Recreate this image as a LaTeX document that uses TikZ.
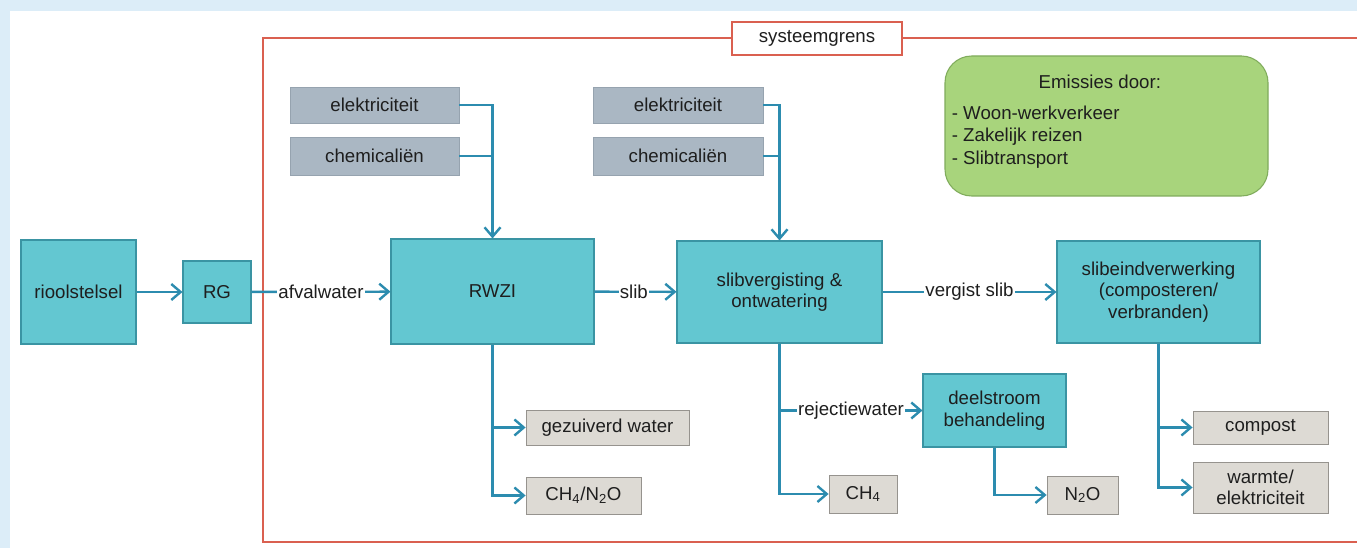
\documentclass[tikz,border=0pt]{standalone}
\usepackage{fontspec}
\setmainfont{Liberation Sans}
\usetikzlibrary{arrows.meta}
\definecolor{bgblue}{RGB}{220,237,248}
\definecolor{tealf}{RGB}{99,199,209}
\definecolor{tealb}{RGB}{58,148,163}
\definecolor{inpf}{RGB}{170,183,195}
\definecolor{inpb}{RGB}{150,163,175}
\definecolor{outf}{RGB}{221,218,212}
\definecolor{outb}{RGB}{150,147,142}
\definecolor{greenf}{RGB}{168,212,124}
\definecolor{greenb}{RGB}{128,172,92}
\definecolor{arrc}{RGB}{44,140,175}
\definecolor{redl}{RGB}{218,96,80}
\definecolor{txt}{RGB}{30,30,30}
\tikzset{
  proc/.style={fill=tealf, draw=tealb, line width=0.8pt, inner sep=2pt, align=center, text=txt},
  inp/.style={fill=inpf, draw=inpb, line width=0.5pt, inner sep=2pt, align=center, text=txt},
  outbox/.style={fill=outf, draw=outb, line width=0.6pt, inner sep=2pt, align=center, text=txt},
  flow/.style={draw=arrc, line width=1.8pt, -{Straight Barb[length=7pt,width=12pt,line width=1.8pt]}},
  feed/.style={draw=arrc, line width=1.8pt},
  lbl/.style={fill=white, inner sep=1pt, text=txt},
  sz/.style 2 args={minimum width=#1, minimum height=#2},
  redline/.style={draw=redl, line width=2.2pt}
}
\begin{document}
\begin{tikzpicture}[x=0.75pt,y=-0.75pt,font=\fontsize{14}{16.2}\selectfont]
\useasboundingbox (0,0) rectangle (1357,548);
\fill[bgblue] (0,0) rectangle (1357,548);
\fill[white] (10,11) rectangle (1357,548);

% system boundary
\draw[redline] (1357,38) -- (263,38) -- (263,542) -- (1357,542);
\node[fill=white, draw=redl, line width=1.8pt, sz={127.5pt}{24.75pt}, inner sep=1pt, text=txt] (sg) at (817,38.5) {systeemgrens};

% process boxes
\node[proc, sz={86.25pt}{78pt}] (riool) at (78.5,292) {rioolstelsel};
\node[proc, sz={51pt}{46.5pt}] (rg) at (217,292) {RG};
\node[proc, sz={152.25pt}{78.75pt}] (rwzi) at (492.5,291.5) {RWZI};
\node[proc, sz={153.75pt}{76.5pt}] (sv) at (779.5,292) {slibvergisting \&\\ontwatering};
\node[proc, sz={152.25pt}{76.5pt}] (se) at (1158.5,292) {slibeindverwerking\\(composteren/\\verbranden)};
\node[proc, sz={107.25pt}{54.75pt}] (ds) at (994.5,410.5) {deelstroom\\behandeling};

% inputs
\node[inp, sz={126.75pt}{27pt}] (el1) at (374.5,105) {elektriciteit};
\node[inp, sz={126.75pt}{28.5pt}] (ch1) at (374.5,156) {chemicaliën};
\node[inp, sz={127.5pt}{27pt}] (el2) at (678,105) {elektriciteit};
\node[inp, sz={127.5pt}{28.5pt}] (ch2) at (678,156) {chemicaliën};

% emissions box
\node[fill=greenf, draw=greenb, line width=0.8pt, rounded corners=20pt, sz={242.25pt}{105pt}, inner sep=0pt, text=txt] (em) at (1106.5,126)
  {\parbox[c][105pt][t]{232pt}{\vspace*{14pt}\centering Emissies door:\hspace*{10pt}\par\vspace{6.5pt}\raggedright
   \baselineskip=16.8pt - Woon-werkverkeer\par - Zakelijk reizen\par - Slibtransport\par}};

% outputs
\node[outbox, sz={122.25pt}{26.25pt}] (gw) at (607.5,427.5) {gezuiverd water};
\node[outbox, sz={86.25pt}{27.75pt}] (cn) at (583.5,495.5) {CH\textsubscript{4}/N\textsubscript{2}O};
\node[outbox, sz={51pt}{28.5pt}] (c4) at (863,494) {CH\textsubscript{4}};
\node[outbox, sz={53.25pt}{28.5pt}] (no) at (1082.5,495) {N\textsubscript{2}O};
\node[outbox, sz={101.25pt}{24.75pt}] (co) at (1260.5,427.5) {compost};
\node[outbox, sz={101.25pt}{38.25pt}] (wa) at (1260.5,487.5) {warmte/\\elektriciteit};

% main flow
\draw[flow] (riool) -- (rg);
\draw[flow] (rg) -- node[lbl, pos=0.5] {afvalwater} (rwzi);
\draw[flow] (rwzi) -- node[lbl, pos=0.48] {slib} (sv);
\draw[flow] (sv) -- node[lbl, pos=0.5] {vergist slib} (se);

% feeds
\draw[flow] (el1.east) -| (rwzi.north);
\draw[feed] (ch1.east) -- (ch1.east -| rwzi.north);
\draw[flow] (el2.east) -| (sv.north);
\draw[feed] (ch2.east) -- (ch2.east -| sv.north);

% RWZI outputs
\draw[flow] (rwzi.south) |- (cn.west);
\draw[flow] (rwzi.south |- gw.west) -- (gw.west);

% slibvergisting outputs
\draw[flow] (sv.south) |- (c4.west);
\draw[flow] (sv.south |- ds.west) -- node[lbl, pos=0.5] {rejectiewater} (ds.west);

% deelstroom
\draw[flow] (ds.south) |- (no.west);

% slibeindverwerking outputs
\draw[flow] (se.south) |- (wa.west);
\draw[flow] (se.south |- co.west) -- (co.west);
\end{tikzpicture}
\end{document}
